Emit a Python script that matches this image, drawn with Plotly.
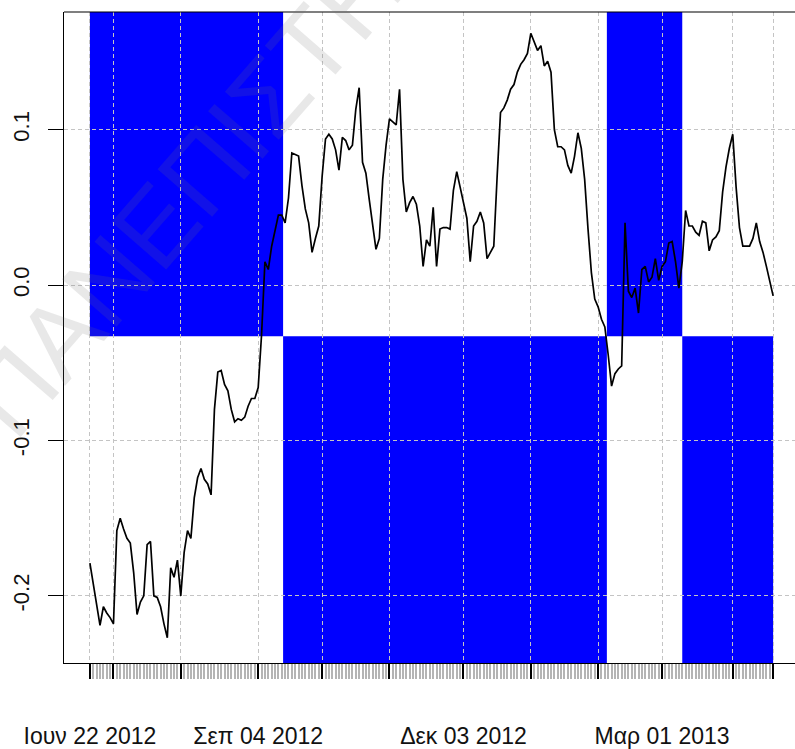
import plotly.graph_objects as go

# Daily observations (trading-day index 0..203), 22 Jun 2012 to mid Apr 2013
values = [
    -0.179, -0.193, -0.208, -0.219, -0.207, -0.211, -0.214, -0.218, -0.158, -0.150,
    -0.157, -0.163, -0.166, -0.185, -0.212, -0.204, -0.200, -0.167, -0.165, -0.200,
    -0.201, -0.207, -0.218, -0.227, -0.182, -0.188, -0.177, -0.200, -0.172, -0.158,
    -0.163, -0.137, -0.124, -0.118, -0.125, -0.128, -0.135, -0.080, -0.056, -0.055,
    -0.064, -0.068, -0.080, -0.088, -0.086, -0.087, -0.085, -0.078, -0.073, -0.073,
    -0.066, -0.032, 0.015, 0.010, 0.025, 0.035, 0.045, 0.045, 0.040, 0.056,
    0.085, 0.084, 0.083, 0.064, 0.049, 0.040, 0.021, 0.030, 0.038, 0.070,
    0.094, 0.097, 0.094, 0.087, 0.074, 0.095, 0.093, 0.087, 0.090, 0.113,
    0.127, 0.079, 0.072, 0.055, 0.040, 0.023, 0.030, 0.068, 0.090, 0.107,
    0.105, 0.103, 0.126, 0.068, 0.047, 0.053, 0.057, 0.052, 0.038, 0.012,
    0.029, 0.025, 0.050, 0.012, 0.036, 0.037, 0.037, 0.036, 0.061, 0.073,
    0.063, 0.054, 0.043, 0.015, 0.038, 0.041, 0.047, 0.040, 0.017, 0.021,
    0.025, 0.070, 0.111, 0.114, 0.119, 0.126, 0.129, 0.137, 0.142, 0.145,
    0.149, 0.162, 0.157, 0.151, 0.154, 0.141, 0.144, 0.137, 0.100, 0.089,
    0.089, 0.087, 0.077, 0.072, 0.083, 0.098, 0.088, 0.068, 0.036, 0.008,
    -0.009, -0.014, -0.022, -0.027, -0.045, -0.065, -0.057, -0.054, -0.052, 0.040,
    -0.004, -0.008, -0.002, -0.018, 0.010, 0.012, 0.002, 0.005, 0.017, 0.003,
    0.012, 0.015, 0.027, 0.028, 0.015, -0.002, 0.015, 0.048, 0.038, 0.038,
    0.034, 0.032, 0.041, 0.040, 0.022, 0.029, 0.031, 0.035, 0.060, 0.076,
    0.088, 0.097, 0.063, 0.037, 0.025, 0.025, 0.025, 0.030, 0.040, 0.028,
    0.021, 0.012, 0.003, -0.007,
]
obs = list(range(len(values)))

# Month-start positions on the observation index and their date labels
major_idx = [0, 7, 27, 50, 69, 89, 111, 131, 151, 170, 191, 203]
major_labels = ["Ιουν 22 2012", "", "", "Σεπ 04 2012", "", "",
                "Δεκ 03 2012", "", "", "Μαρ 01 2013", "", ""]

y_ticks = [-0.2, -0.1, 0.0, 0.1]
y_labels = ["-0.2", "-0.1", "0.0", "0.1"]

# Regime periods: start/end index and which half of the panel is shaded
regime_start = [0, 57.4, 153.6, 176]
regime_end = [57.4, 153.6, 176, 203]
regime_side = ["upper", "lower", "upper", "lower"]
regime_split = -0.033

x_range = [-7.7, 209.5]
y_range = [-0.2432, 0.1757]

fig = go.Figure()

fig.add_trace(go.Scatter(
    x=obs, y=values, mode="lines",
    line=dict(color="black", width=1.7),
    hoverinfo="skip", showlegend=False,
))

shapes = []
for x0, x1, side in zip(regime_start, regime_end, regime_side):
    if side == "upper":
        y0, y1 = regime_split, 1.0
    else:
        y0, y1 = -1.0, regime_split
    shapes.append(dict(type="rect", xref="x", yref="y", x0=x0, x1=x1, y0=y0, y1=y1,
                       fillcolor="#0000ff", line=dict(width=0), layer="below"))
# top frame line
shapes.append(dict(type="line", xref="paper", yref="paper", x0=0, x1=1, y0=1, y1=1,
                   line=dict(color="black", width=1.2)))

fig.update_layout(
    width=795, height=749,
    margin=dict(l=64, r=0, t=12, b=84),
    paper_bgcolor="white", plot_bgcolor="white",
    font=dict(family="Liberation Sans, Arial, sans-serif", color="#111111"),
    shapes=shapes,
    annotations=[dict(
        text="ΠΑΝΕΠΙΣΤΗΜΙΟ", xref="paper", yref="paper",
        x=(250 - 64) / 731, y=(665 - 118) / 653, xanchor="center", yanchor="middle",
        textangle=-49, showarrow=False,
        font=dict(size=105, color="rgba(110,110,110,0.16)", family="Liberation Sans, Arial"),
    )],
)

fig.update_xaxes(
    range=x_range, tickmode="array", tickvals=major_idx, ticktext=major_labels,
    ticks="outside", ticklen=15, tickwidth=1.6, tickcolor="black",
    ticklabelstandoff=37, tickfont=dict(size=23),
    showline=True, linecolor="black", linewidth=1.2,
    showgrid=True, gridcolor="#c4c4c4", gridwidth=1, griddash="4px,3px",
    zeroline=False,
    minor=dict(tickmode="array", tickvals=[i for i in obs if i not in major_idx],
               ticks="outside", ticklen=15, tickwidth=2, tickcolor="#b4b4b4",
               showgrid=False),
)
fig.update_yaxes(
    range=y_range, tickmode="array", tickvals=y_ticks, ticktext=y_labels,
    tickangle=-90, ticks="outside", ticklen=15, tickwidth=1.2, tickcolor="black",
    ticklabelstandoff=10, tickfont=dict(size=22),
    showline=True, linecolor="black", linewidth=1.2,
    showgrid=True, gridcolor="#c4c4c4", gridwidth=1, griddash="4px,3px",
    zeroline=False,
)

fig.write_html("out.html")
